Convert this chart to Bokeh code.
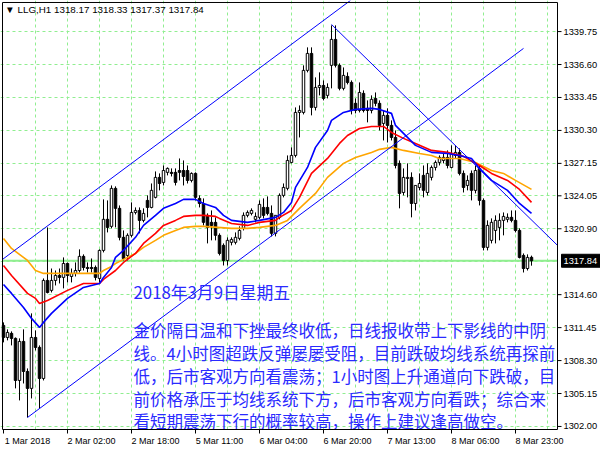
from bokeh.plotting import figure
from bokeh.models import Range1d, FixedTicker, Label, LinearAxis, ColumnDataSource
from bokeh.embed import file_html
from bokeh.resources import INLINE
from bokeh.core.properties import value

# ---------------- data ----------------
opens = [1311.66,1310.51,1310.90,1310.42,1306.40,1310.13,1307.26,1305.64,1310.51,1309.56,
         1306.59,1315.96,1315.01,1315.96,1316.44,1316.25,1317.58,1316.34,1316.63,1316.91,
         1318.26,1317.20,1317.20,1317.20,1316.15,1318.83,1321.80,1321.13,1324.76,1322.85,
         1320.08,1318.35,1320.27,1322.46,1322.65,1321.70,1323.61,1322.94,1323.90,1325.81,
         1325.33,1326.29,1326.29,1326.29,1326.47,1326.47,1326.47,1325.52,1326.19,1323.80,
         1323.32,1322.18,1321.51,1321.51,1320.27,1319.31,1317.87,1319.60,1319.60,1319.98,
         1320.94,1322.18,1322.37,1321.80,1321.99,1322.94,1322.94,1322.37,1320.46,1321.99,
         1324.09,1324.76,1327.24,1327.91,1332.02,1332.02,1336.04,1337.66,1332.50,1334.41,
         1334.60,1333.65,1336.52,1339.00,1336.52,1334.32,1335.46,1334.89,1332.89,1332.21,
         1333.84,1332.41,1332.21,1333.36,1332.89,1330.97,1331.74,1330.78,1329.63,1327.15,
         1324.37,1325.71,1325.81,1323.32,1324.85,1326.00,1324.37,1325.81,1326.76,1327.24,
         1327.43,1327.72,1326.76,1327.91,1328.20,1326.19,1325.04,1326.19,1324.57,1326.67,
         1323.61,1319.12,1319.79,1320.74,1321.03,1321.70,1321.80,1321.99,1321.70,1320.74,
         1318.35,1317.10,1318.17]
highs = [1311.95,1311.28,1311.09,1310.51,1310.42,1311.28,1307.55,1312.81,1311.18,1309.75,
         1316.15,1321.03,1317.10,1316.91,1317.10,1318.16,1317.68,1317.10,1317.68,1318.93,
         1318.45,1317.68,1318.06,1317.39,1318.93,1323.71,1323.61,1325.04,1324.95,1323.13,
         1320.74,1320.46,1323.42,1322.94,1322.94,1322.85,1324.09,1325.23,1326.38,1326.19,
         1326.95,1326.76,1326.67,1326.67,1327.62,1327.43,1326.95,1326.29,1326.29,1324.09,
         1323.80,1322.37,1322.65,1321.99,1320.46,1319.50,1320.08,1320.08,1320.55,1321.13,
         1322.46,1322.65,1322.85,1322.46,1323.61,1323.80,1323.99,1323.13,1321.51,1324.28,
         1325.23,1327.91,1328.68,1332.50,1332.69,1336.52,1338.24,1338.24,1335.37,1335.85,
         1335.08,1334.80,1340.34,1340.34,1336.71,1336.32,1335.85,1335.08,1333.36,1334.89,
         1334.13,1333.17,1333.65,1333.93,1333.17,1332.21,1332.41,1331.26,1330.30,1327.43,
         1326.67,1327.15,1326.29,1325.04,1326.19,1326.95,1327.15,1326.95,1327.43,1327.91,
         1328.10,1328.39,1328.87,1328.87,1328.58,1326.47,1326.00,1326.47,1326.95,1326.95,
         1323.80,1321.70,1321.89,1322.18,1322.37,1322.46,1322.37,1322.65,1322.65,1320.94,
         1318.54,1318.45,1318.33]
lows = [1310.04,1310.23,1309.75,1305.64,1304.49,1306.11,1302.86,1304.68,1309.27,1303.73,
        1306.40,1314.72,1314.81,1315.48,1315.67,1315.20,1315.77,1315.77,1316.34,1316.72,
        1316.91,1316.72,1316.72,1315.96,1315.77,1318.64,1320.55,1320.94,1321.03,1319.79,
        1317.87,1317.87,1320.08,1322.27,1320.46,1321.51,1321.99,1322.85,1323.80,1324.57,
        1325.04,1326.00,1325.90,1325.04,1325.52,1325.04,1325.23,1325.33,1323.61,1322.94,
        1321.22,1319.50,1319.79,1319.79,1318.35,1317.39,1317.39,1319.31,1319.40,1319.79,
        1320.74,1321.99,1322.18,1321.51,1321.80,1321.89,1322.18,1320.17,1320.17,1321.80,
        1323.90,1324.57,1327.15,1327.72,1329.63,1331.83,1335.85,1331.74,1332.21,1333.65,
        1333.17,1333.36,1334.32,1336.32,1334.13,1334.13,1334.70,1331.83,1331.93,1332.02,
        1332.02,1331.07,1331.93,1332.60,1330.30,1329.34,1329.15,1329.34,1326.67,1322.85,
        1324.09,1323.90,1321.99,1322.65,1324.57,1323.90,1324.09,1325.52,1326.47,1326.95,
        1327.15,1326.67,1326.67,1327.62,1326.00,1324.37,1324.57,1323.61,1324.28,1323.13,
        1318.83,1318.83,1319.50,1319.50,1319.79,1320.27,1321.51,1321.51,1320.55,1318.06,
        1316.72,1316.91,1317.37]
closes = [1310.51,1310.99,1310.42,1306.40,1310.13,1307.26,1305.64,1310.51,1309.56,1306.59,
          1315.96,1314.81,1315.96,1316.44,1316.25,1317.58,1316.44,1316.63,1316.91,1318.26,
          1317.20,1317.10,1317.10,1316.25,1318.83,1321.80,1321.03,1324.76,1322.85,1320.08,
          1318.06,1320.27,1322.46,1322.65,1321.70,1322.37,1322.94,1324.57,1325.81,1325.23,
          1326.47,1326.67,1326.19,1325.33,1326.29,1325.90,1325.52,1326.19,1323.90,1323.32,
          1321.51,1321.03,1321.22,1320.27,1318.54,1317.87,1319.79,1319.88,1320.08,1320.74,
          1322.18,1322.46,1322.65,1322.08,1323.23,1322.18,1322.37,1320.46,1322.18,1324.09,
          1324.85,1327.43,1327.91,1332.02,1332.21,1336.04,1337.66,1332.50,1334.41,1334.60,
          1333.36,1334.41,1339.00,1336.52,1334.32,1335.56,1334.89,1332.21,1332.21,1333.93,
          1332.21,1332.21,1333.27,1332.89,1330.78,1331.74,1330.78,1329.63,1326.95,1324.28,
          1325.81,1325.81,1323.32,1325.04,1325.23,1324.57,1326.19,1326.76,1327.24,1327.72,
          1327.72,1326.95,1328.10,1328.20,1326.19,1324.85,1325.52,1324.57,1326.47,1323.61,
          1319.12,1321.22,1321.51,1321.70,1321.70,1322.08,1321.99,1321.70,1320.74,1318.16,
          1317.10,1318.16,1317.84]

# moving averages (bar index, price)
ma_blue_bars = [0,2,5,7,9,10,12,16,20,24,25,27,28,30,33,35,38,40,43,45,48,50,53,55,57,61,64,68,70,72,73,76,78,81,82,85,88,92,94,97,98,101,103,107,111,114,117,119,122,126,129,132]
ma_blue_vals = [1315.58,1314.72,1313.38,1312.33,1311.47,1311.95,1312.81,1314.24,1315.29,1315.67,1316.25,1317.20,1318.16,1318.83,1320.08,1321.22,1322.18,1322.85,1323.32,1323.71,1323.71,1323.32,1322.94,1322.18,1321.70,1321.51,1321.70,1321.99,1322.46,1323.42,1324.85,1326.76,1328.68,1330.30,1331.26,1332.02,1332.31,1332.41,1332.31,1331.93,1330.78,1329.63,1328.87,1328.20,1328.10,1327.91,1327.62,1326.67,1325.52,1324.57,1323.32,1322.37]
ma_red_bars = [0,2,6,8,9,11,16,20,24,25,26,28,30,33,35,38,40,43,45,48,50,53,54,57,61,64,68,69,72,74,77,81,84,86,89,92,95,97,100,103,107,111,115,119,122,126,129,132]
ma_red_vals = [1317.39,1316.44,1314.72,1314.24,1313.76,1314.05,1315.01,1315.67,1315.67,1316.06,1316.34,1316.91,1317.68,1318.54,1319.50,1320.46,1321.22,1321.70,1322.08,1322.18,1322.18,1322.08,1321.89,1321.41,1321.22,1321.51,1321.70,1321.99,1322.65,1323.90,1326.19,1327.62,1329.06,1329.82,1330.49,1330.68,1330.68,1330.11,1329.54,1329.06,1328.39,1328.20,1327.82,1326.95,1326.19,1325.52,1324.66,1323.42]
ma_orange_bars = [0,2,6,8,10,16,24,25,27,28,30,33,35,38,40,43,45,48,50,57,61,64,68,71,74,78,81,85,88,92,94,97,100,104,107,109,114,118,122,125,128,132]
ma_orange_vals = [1319.98,1319.02,1317.87,1316.91,1316.63,1316.63,1316.63,1316.91,1317.30,1317.58,1317.97,1318.54,1319.12,1319.79,1320.27,1320.74,1321.03,1321.13,1321.13,1320.94,1320.94,1321.03,1321.22,1321.70,1322.85,1324.28,1325.81,1327.15,1327.72,1328.20,1328.49,1328.68,1328.39,1328.10,1327.91,1327.62,1327.62,1327.24,1326.47,1326.19,1325.52,1324.66]

# trend lines drawn on the chart (end points)
channel_upper_bars = [-0.25, 86.75]
channel_upper_prices = [1317.97, 1342.73]
channel_lower_bars = [6, 130]
channel_lower_prices = [1302.86, 1338.14]
down_line_bars = [82, 138.5]
down_line_prices = [1340.43, 1319.31]

time_tick_bars = [0, 16, 32, 48, 64, 80, 96, 112, 128]
time_tick_labels = ["1 Mar 2018", "2 Mar 02:00", "2 Mar 18:00", "5 Mar 11:00", "6 Mar 04:00",
                    "6 Mar 20:00", "7 Mar 13:00", "8 Mar 06:00", "8 Mar 23:00"]
price_ticks = [1302.00, 1305.15, 1308.30, 1311.45, 1314.60, 1320.90, 1324.05,
               1327.15, 1330.30, 1333.45, 1336.60, 1339.75]
hidden_price_tick = 1317.75
last_price = 1317.84
header_text = "\u25bc LLG,H1 1318.17 1318.33 1317.37 1317.84"

note_title = "2018年3月9日星期五"
note_lines = ["金价隔日温和下挫最终收低，日线报收带上下影线的中阴",
              "线。4小时图超跌反弹屡屡受阻，目前跌破均线系统再探前",
              "低，后市客观方向看震荡；1小时图上升通道向下跌破，目",
              "前价格承压于均线系统下方，后市客观方向看跌；综合来",
              "看短期震荡下行的概率较高，操作上建议逢高做空。"]

# ---------------- layout constants (pixel mapping: 4 px per bar) ----------------
X0, X1 = -0.75, 149.25          # whole canvas width
Y0, Y1 = 1301.71, 1342.72
plot_left, plot_top = -0.25, 1342.53
axis_bar = 138.5                # price-axis line position

p = figure(width=600, height=450, x_range=Range1d(X0, X1), y_range=Range1d(Y0, Y1),
           y_axis_location=None, output_backend="svg", toolbar_location=None,
           min_border_left=0, min_border_top=0, min_border_right=0, min_border_bottom=21)
p.outline_line_color = None
p.background_fill_color = "white"
p.border_fill_color = "white"

grid_color = "#90ee90"
p.xgrid.ticker = FixedTicker(ticks=list(range(8, 137, 8)))
p.ygrid.ticker = FixedTicker(ticks=price_ticks + [hidden_price_tick])
p.grid.grid_line_color = grid_color
p.grid.grid_line_dash = "3 3"
p.grid.grid_line_width = 1

# bottom axis: tick marks only
xa = p.xaxis[0]
xa.ticker = FixedTicker(ticks=time_tick_bars)
xa.major_label_overrides = {b: "" for b in time_tick_bars}
xa.major_label_text_font_size = "0px"
xa.major_label_standoff = 0
xa.major_tick_in = 0
xa.major_tick_out = 4
xa.minor_tick_in = 0
xa.minor_tick_out = 0
xa.axis_line_color = "black"
xa.bounds = (plot_left, axis_bar)

# bottom axis: time labels starting at each tick (MetaTrader style)
label_shift = 6
lbl_axis = LinearAxis(ticker=FixedTicker(ticks=[b + label_shift for b in time_tick_bars]),
                      major_label_overrides={b + label_shift: l for b, l in zip(time_tick_bars, time_tick_labels)},
                      major_label_text_font="Liberation Sans", major_label_text_font_size="9px",
                      major_label_text_color="black", major_label_standoff=2,
                      major_tick_in=0, major_tick_out=0, minor_tick_in=0, minor_tick_out=0,
                      axis_line_color=None)
p.add_layout(lbl_axis, "below")

# current price line (up to the price axis)
p.segment(x0=[plot_left], y0=[last_price], x1=[axis_bar], y1=[last_price],
          line_color=grid_color, line_width=2)

# candles
bars = list(range(len(opens)))
up = [c >= o for o, c in zip(opens, closes)]
src = ColumnDataSource(dict(
    x=bars, high=highs, low=lows,
    top=[max(o, c) for o, c in zip(opens, closes)],
    bottom=[min(o, c) for o, c in zip(opens, closes)],
    fill=["white" if u else "black" for u in up]))
p.segment(x0="x", y0="low", x1="x", y1="high", source=src, line_color="black", line_width=1)
p.vbar(x="x", top="top", bottom="bottom", width=0.62, fill_color="fill", line_color="black",
       line_width=1, source=src)

# moving averages
p.line(ma_orange_bars, ma_orange_vals, line_color="#ffa500", line_width=1.6)
p.line(ma_red_bars, ma_red_vals, line_color="#ff0000", line_width=1.6)
p.line(ma_blue_bars, ma_blue_vals, line_color="#0000ff", line_width=1.6)

# trend lines
for bx, py in [(channel_upper_bars, channel_upper_prices),
               (channel_lower_bars, channel_lower_prices),
               (down_line_bars, down_line_prices)]:
    p.line(bx, py, line_color="#0000ff", line_width=1)

# notes
text_color = "#2a2aff"
p.text(x=[32.5], y=[1314.85], text=[note_title], text_font=value("Noto Sans CJK SC"),
       text_font_size=value("16.8px"), text_color=text_color, text_baseline="middle", text_align="left")
note_y = [1311.18, 1308.98, 1306.78, 1304.59, 1302.48]
p.text(x=[32.5] * len(note_lines), y=note_y, text=note_lines, text_font=value("Noto Sans CJK SC"),
       text_font_size=value("16.5px"), text_color=text_color, text_baseline="middle", text_align="left")

# header
p.add_layout(Label(x=0.4, y=1341.87, text=header_text, text_font="Liberation Sans",
                   text_font_size="9.8px", text_color="black", text_baseline="middle"))

# ---- price scale on the right (drawn in the chart's own coordinates) ----
p.quad(left=[axis_bar], right=[X1], bottom=[Y0], top=[Y1], fill_color="white", line_color=None)
# chart frame (left/top/right edges)
p.quad(left=[plot_left], right=[axis_bar], bottom=[Y0], top=[plot_top], fill_color=None,
       line_color="black", line_width=1)
p.segment(x0=[axis_bar] * len(price_ticks), y0=price_ticks, x1=[axis_bar + 1.0] * len(price_ticks),
          y1=price_ticks, line_color="black", line_width=1)
p.text(x=[axis_bar + 1.5] * len(price_ticks), y=price_ticks, text=["%.2f" % t for t in price_ticks],
       text_font=value("Liberation Sans"), text_font_size=value("9.3px"), text_color="black",
       text_baseline="middle", text_align="left")
# last-price box
p.quad(left=[axis_bar + 1.0], right=[X1], bottom=[last_price - 0.62], top=[last_price + 0.62],
       fill_color="black", line_color="black")
p.text(x=[axis_bar + 1.5], y=[last_price], text=["%.2f" % last_price],
       text_font=value("Liberation Sans"), text_font_size=value("9.3px"), text_color="white",
       text_baseline="middle", text_align="left")

open("out.html", "w").write(file_html(p, INLINE))
